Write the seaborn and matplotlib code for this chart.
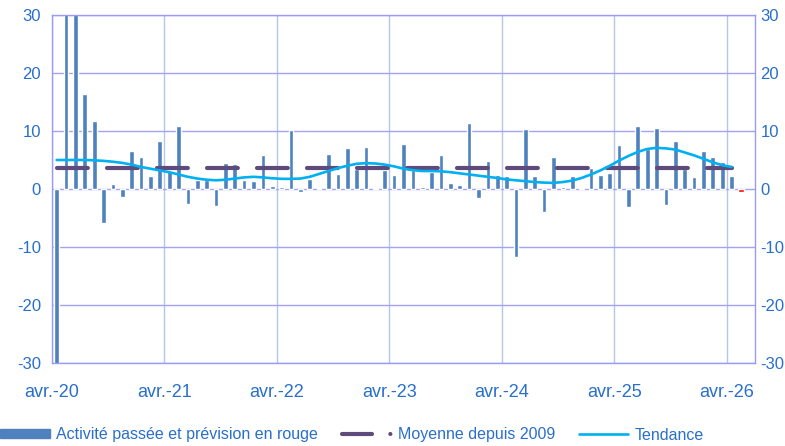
import numpy as np
import pandas as pd
import matplotlib
matplotlib.use("Agg")
import matplotlib.pyplot as plt
import seaborn as sns
from matplotlib.lines import Line2D
from matplotlib.patches import Patch

# Monthly activity (index 0 = avr. 2020), last value is the red forecast
activity = [-33, 40, 34, 16.4, 11.7, -5.8, 0.8, -1.4, 6.5, 5.5, 2.3, 8.3,
            3.1, 10.8, -2.5, 1.6, 1.6, -2.9, 4.5, 4.3, 1.6, 1.3, 5.9, 0.5,
            0.3, 10.1, -0.5, 1.8, 0.1, 6.1, 2.6, 7.1, 3.5, 7.3, 0.1, 3.3,
            2.5, 7.8, 3.2, 0.3, 2.9, 5.8, 1.0, 0.7, 11.3, -1.5, 4.8, 2.5,
            2.2, -11.8, 10.4, 2.2, -4.0, 5.6, 0.4, 2.2, 0.2, 3.7, 2.5, 2.8,
            7.6, -3.1, 10.8, 6.9, 10.6, -2.7, 8.3, 3.4, 2.0, 6.6, 5.5, 4.6,
            2.3]
forecast = [-0.5]

# Trend line, one value per month of past activity
trend = [5.0, 5.0, 5.0, 5.0, 4.95, 4.85, 4.7, 4.5, 4.2, 3.8, 3.5, 3.2,
         2.9, 2.5, 2.1, 1.8, 1.6, 1.5, 1.6, 1.8, 2.0, 2.1, 2.0, 1.85,
         1.75, 1.75, 1.8, 2.1, 2.6, 3.1, 3.6, 4.0, 4.35, 4.45, 4.4, 4.2,
         3.9, 3.5, 3.25, 3.1, 3.1, 3.05, 2.9, 2.7, 2.5, 2.3, 2.1, 1.9,
         1.65, 1.5, 1.35, 1.2, 1.1, 1.05, 1.2, 1.45, 1.9, 2.5, 3.2, 4.0,
         4.9, 5.7, 6.4, 6.9, 7.1, 7.0, 6.8, 6.3, 5.8, 5.2, 4.6, 4.1, 3.8]

mean_since_2009 = 3.7

tick_labels = ['avr.-20', 'avr.-21', 'avr.-22', 'avr.-23', 'avr.-24', 'avr.-25', 'avr.-26']

blue = '#4F81BD'
purple = '#5F4B7B'
cyan = '#00B0F0'
text_blue = '#2A6FCB'

# bars sit in the middle of their month
months = np.arange(len(activity)) + 0.5
past = pd.DataFrame({'month': months, 'value': activity})
future = pd.DataFrame({'month': [len(activity) + 0.5], 'value': forecast})
lines = pd.DataFrame({'month': months, 'trend': trend,
                      'mean': np.full(len(months), mean_since_2009)})

sns.set_style('white')
plt.rcParams['font.family'] = ['Liberation Sans', 'DejaVu Sans']
plt.rcParams['axes.unicode_minus'] = False

fig = plt.figure(figsize=(7.85, 4.46), dpi=100)
ax = fig.add_axes([52 / 785, 1 - 363 / 446, 703 / 785, 348 / 446])

sns.barplot(data=past, x='month', y='value', native_scale=True, width=0.5,
            color=blue, saturation=1, errorbar=None, ax=ax, zorder=2)
sns.barplot(data=future, x='month', y='value', native_scale=True, width=0.6,
            color='#FF0000', saturation=1, errorbar=None, ax=ax, zorder=2)

sns.lineplot(data=lines, x='month', y='mean', ax=ax, color=purple, lw=3,
             zorder=3, dashes=False)
ax.lines[-1].set_dashes((7.4, 4.6))
ax.lines[-1].set_dash_capstyle('round')
sns.lineplot(data=lines, x='month', y='trend', ax=ax, color=cyan, lw=1.9, zorder=4)

# axes styling
ax.set_xlim(0, 75)
ax.set_ylim(-30, 30)
ax.set_yticks(range(-30, 31, 10))
ax.set_xticks(range(0, 73, 12))
ax.set_xticklabels(tick_labels)
ax.set_xlabel('')
ax.set_ylabel('')
ax.set_axisbelow(True)
ax.yaxis.grid(True, color='#A3A3F2', lw=1)
ax.xaxis.grid(True, color='#B5C6E6', lw=1)
for sp in ax.spines.values():
    sp.set_visible(True)
    sp.set_color('#9A9AF7')
    sp.set_linewidth(1)

ax.tick_params(axis='x', length=0, pad=15, labelsize=13, labelcolor=text_blue)
ax.tick_params(axis='y', length=0, pad=8, labelsize=12, labelcolor=text_blue)

# same scale repeated on the right
right = ax.secondary_yaxis('right')
right.set_yticks(range(-30, 31, 10))
right.tick_params(length=0, pad=4, labelsize=12, labelcolor=text_blue)
right.spines['right'].set_visible(False)

# legend
mean_handle = Line2D([], [], color=purple, lw=3, dashes=(7.2, 4.4, 0.01, 10),
                     dash_capstyle='round')
handles = [Patch(color=blue),
           mean_handle,
           Line2D([], [], color=cyan, lw=1.9)]
labels = ['Activité passée et prévision en rouge', 'Moyenne depuis 2009', 'Tendance']
leg = fig.legend(handles, labels, loc='center left', bbox_to_anchor=(0.0, 1 - 435 / 446),
                 ncol=3, frameon=False, fontsize=11.5, handlelength=3.1,
                 handleheight=0.5, handletextpad=0.4, columnspacing=1.5,
                 borderpad=0, borderaxespad=0)
for t in leg.get_texts():
    t.set_color(text_blue)

fig.savefig('out.png', dpi=100)
